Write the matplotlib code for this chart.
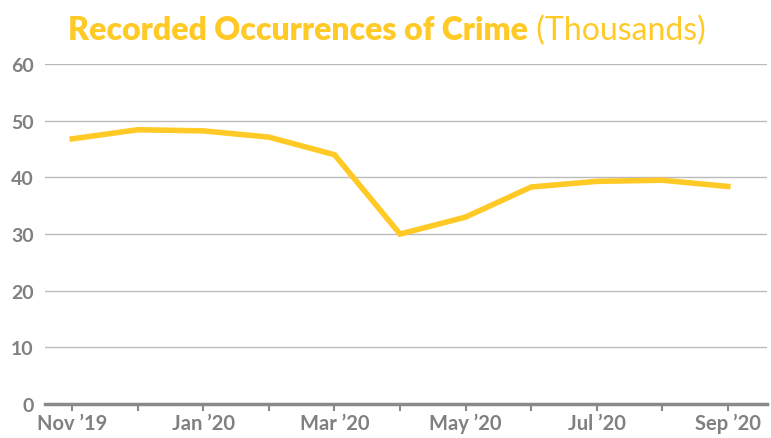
import matplotlib
matplotlib.use("Agg")
import matplotlib.pyplot as plt

# data
months = ["Nov ’19", "Dec ’19", "Jan ’20", "Feb ’20", "Mar ’20", "Apr ’20",
          "May ’20", "Jun ’20", "Jul ’20", "Aug ’20", "Sep ’20"]
crimes = [46.8, 48.4, 48.2, 47.1, 44.0, 30.0, 33.0, 38.3, 39.3, 39.5, 38.4]
yticks = [0, 10, 20, 30, 40, 50, 60]

YELLOW = "#FFC926"
GRAY = "#808080"
plt.rcParams["font.family"] = ["Lato", "DejaVu Sans"]

fig = plt.figure(figsize=(7.71, 4.39), dpi=100)
ax = fig.add_axes([0.058, 0.077, 0.937, 0.775])

x = list(range(len(months)))
ax.plot(x, crimes, color=YELLOW, lw=4, solid_joinstyle="miter", zorder=3)

ax.set_ylim(0, 60)
ax.set_xlim(-0.42, 10.6)
ax.set_yticks(yticks)
ax.set_xticks(x)
ax.set_xticklabels([m if i % 2 == 0 else "" for i, m in enumerate(months)])
ax.yaxis.grid(True, color="#BBBBBB", lw=1)
ax.set_axisbelow(True)

for s in ["top", "right", "left"]:
    ax.spines[s].set_visible(False)
ax.spines["bottom"].set_color("#8A8A8A")
ax.spines["bottom"].set_linewidth(2.5)
ax.spines["bottom"].set_zorder(4)

ax.tick_params(axis="y", length=0, pad=8, labelsize=14, labelcolor=GRAY)
ax.tick_params(axis="x", length=5, width=1.5, color="#8A8A8A", pad=1,
               labelsize=14.5, labelcolor=GRAY)
for lbl in ax.get_xticklabels() + ax.get_yticklabels():
    lbl.set_fontweight("bold")

# two-part title: bold main + regular suffix
fig.canvas.draw()
r = fig.canvas.get_renderer()
t1 = fig.text(0.09, 0.93, "Recorded Occurrences of Crime", color=YELLOW,
              fontsize=23, fontweight="heavy", va="center", ha="left")
t2 = fig.text(0, 0.93, " (Thousands)", color=YELLOW, fontsize=23,
              va="center", ha="left")
w1 = t1.get_window_extent(r).width
w2 = t2.get_window_extent(r).width
start = (fig.bbox.width * 0.5 + 1 - (w1 + w2) / 2) / fig.bbox.width
t1.set_x(start)
t2.set_x(start + w1 / fig.bbox.width)

fig.savefig("out.png", dpi=100)
